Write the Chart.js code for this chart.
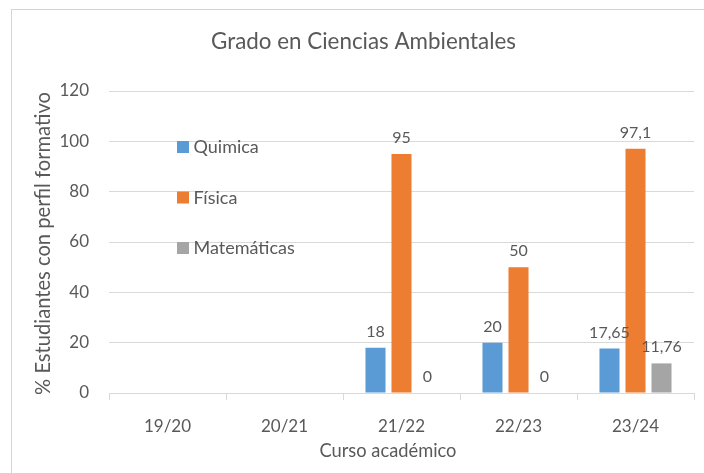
<!DOCTYPE html>
<html><head><meta charset="utf-8">
<script src="https://cdn.jsdelivr.net/npm/chart.js@4"></script>
<style>html,body{margin:0;padding:0;background:#fff;overflow:hidden}#wrap{position:relative;width:704px;height:473px}</style>
</head><body><div id="wrap"><canvas id="c" width="704" height="473"></canvas></div>
<script>
const categories = ['19/20', '20/21', '21/22', '22/23', '23/24'];
const seriesNames = ['Quimica', 'Física', 'Matemáticas'];
const quimica = [null, null, 18, 20, 17.65];
const fisica = [null, null, 95, 50, 97.1];
const matematicas = [null, null, 0, 0, 11.76];
const yMin = 0, yMax = 120, yStep = 20;
const chartTitle = 'Grado en Ciencias Ambientales';
const xTitle = 'Curso académico';
const yTitle = '% Estudiantes con perfil formativo';

const FONT = 'Lato, "Open Sans", sans-serif';
const TXT = '#595959';
const GRID = '#d9d9d9';
const fmt = v => String(v).replace('.', ',');

function fitFont(ctx, text, targetW) {
  ctx.font = '20px ' + FONT;
  const w = ctx.measureText(text).width;
  return (20 * targetW / w).toFixed(2) + 'px ' + FONT;
}

const framePlugin = {
  id: 'frame',
  beforeDraw(chart) {
    const ctx = chart.ctx;
    ctx.save();
    ctx.fillStyle = '#fff';
    ctx.fillRect(0, 0, chart.width, chart.height);
    ctx.strokeStyle = '#d4d4d4';
    ctx.lineWidth = 1;
    ctx.strokeRect(11.5, 9.5, 900, 900);
    ctx.restore();
  },
  afterDraw(chart) {
    const ctx = chart.ctx;
    ctx.save();
    ctx.fillStyle = TXT;
    ctx.textAlign = 'center';
    ctx.textBaseline = 'middle';
    ctx.font = fitFont(ctx, chartTitle, 305);
    ctx.fillText(chartTitle, 363.5, 42);
    ctx.font = fitFont(ctx, xTitle, 137);
    ctx.fillText(xTitle, 388, 451.5);
    ctx.translate(43, 243.5);
    ctx.rotate(-Math.PI / 2);
    ctx.font = fitFont(ctx, yTitle, 303);
    ctx.fillText(yTitle, 0, 0);
    ctx.restore();
  }
};

const valueLabels = {
  id: 'valueLabels',
  afterDatasetsDraw(chart) {
    const ctx = chart.ctx;
    ctx.save();
    ctx.font = '16px ' + FONT;
    ctx.fillStyle = TXT;
    ctx.textAlign = 'center';
    ctx.textBaseline = 'alphabetic';
    chart.data.datasets.forEach((ds, i) => {
      const meta = chart.getDatasetMeta(i);
      meta.data.forEach((el, j) => {
        const v = ds.data[j];
        if (v === null || v === undefined) return;
        ctx.fillText(fmt(v), el.x, el.y - 11);
      });
    });
    ctx.restore();
  }
};

const innerLegend = {
  id: 'innerLegend',
  afterDraw(chart) {
    const ctx = chart.ctx, a = chart.chartArea;
    ctx.save();
    ctx.font = '18px ' + FONT;
    ctx.textAlign = 'left';
    ctx.textBaseline = 'middle';
    chart.data.datasets.forEach((ds, i) => {
      const cy = a.top + 56 + i * 50.5;
      const x0 = a.left + 68;
      ctx.fillStyle = ds.backgroundColor;
      ctx.fillRect(x0, cy - 6, 12, 12);
      ctx.fillStyle = TXT;
      ctx.fillText(ds.label, x0 + 16.5, cy + 0.5);
    });
    ctx.restore();
  }
};

const colors = ['#5B9BD5', '#ED7D31', '#A5A5A5'];
const seriesData = [quimica, fisica, matematicas];

new Chart(document.getElementById('c'), {
  type: 'bar',
  data: {
    labels: categories,
    datasets: seriesNames.map((n, i) => ({
      label: n,
      data: seriesData[i],
      backgroundColor: colors[i],
      borderWidth: 0,
      categoryPercentage: 0.667,
      barPercentage: 0.77
    }))
  },
  options: {
    responsive: false,
    animation: false,
    devicePixelRatio: 1,
    layout: { padding: { left: 0, right: 10, top: 91, bottom: 0 } },
    plugins: {
      legend: { display: false },
      tooltip: { enabled: false },
      title: { display: false }
    },
    scales: {
      x: {
        offset: true,
        grid: { display: true, offset: true, drawOnChartArea: false, drawTicks: true, tickLength: 7, color: GRID },
        border: { display: true, color: GRID },
        ticks: { color: TXT, font: { family: FONT, size: 17 }, padding: 16, maxRotation: 0 },
        afterFit(s) { s.height = 80; }
      },
      y: {
        min: yMin, max: yMax,
        ticks: { stepSize: yStep, color: TXT, font: { family: FONT, size: 17 }, padding: 20 },
        grid: { color: GRID, drawTicks: false },
        border: { display: false },
        afterFit(s) { s.width = 109; }
      }
    }
  },
  plugins: [framePlugin, valueLabels, innerLegend]
});
</script></body></html>
